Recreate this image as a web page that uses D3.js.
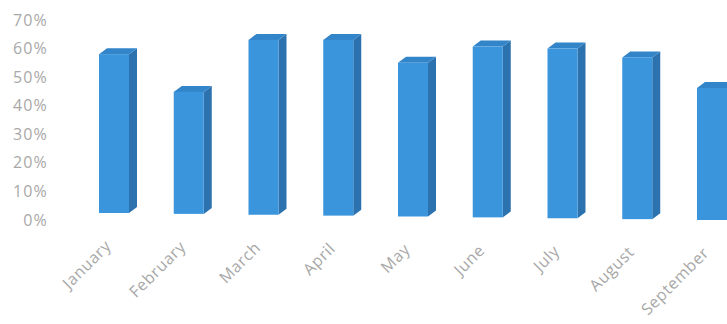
<!DOCTYPE html>
<html><head><meta charset="utf-8">
<script src="https://cdn.jsdelivr.net/npm/d3@7"></script>
<style>html,body{margin:0;padding:0;background:#fff;}svg{display:block;}</style>
</head><body>
<svg id="chart" width="727" height="324"></svg>
<script>
const months = ["January","February","March","April","May","June","July","August","September"];
const values = [0.556, 0.427, 0.612, 0.615, 0.538, 0.598, 0.594, 0.566, 0.462];
const yTicks = [0, 0.1, 0.2, 0.3, 0.4, 0.5, 0.6, 0.7];

const svg = d3.select("#chart");
const y = d3.scaleLinear().domain([0, 0.7]).range([220, 20]);
const x = d3.scaleBand().domain(months).range([99, 99 + 8*74.75 + 30]).paddingInner(0.5987).paddingOuter(0);
const bw = x.bandwidth();
const depthX = 8, depthY = 6;
// perspective: floor slopes down slightly to the right
const base = d3.scaleLinear().domain([0, months.length - 1]).range([213, 220]);

const yAxis = d3.axisLeft(y).tickValues(yTicks).tickFormat(d3.format(".0%")).tickSize(0).tickPadding(0);
const ga = svg.append("g").attr("transform", "translate(48,0)").call(yAxis);
ga.select(".domain").remove();
ga.selectAll("text").attr("fill", "#a8a8a8").style("font-family", "Open Sans, sans-serif").style("font-size", "16px").attr("letter-spacing", "1.2");

const bars = svg.append("g").selectAll("g").data(months).join("g");
bars.each(function(m, i) {
  const g = d3.select(this);
  const x0 = x(m), b = base(i), t = b - (y(0) - y(values[i]));
  // side face
  g.append("path").attr("d", `M${x0+bw},${t}L${x0+bw+depthX},${t-depthY}L${x0+bw+depthX},${b-depthY}L${x0+bw},${b}Z`).attr("fill", "#2b72ae");
  // top face
  g.append("path").attr("d", `M${x0},${t}L${x0+depthX},${t-depthY}L${x0+bw+depthX},${t-depthY}L${x0+bw},${t}Z`).attr("fill", "#3385ca");
  // front face
  g.append("rect").attr("x", x0).attr("y", t).attr("width", bw).attr("height", b - t).attr("fill", "#3b95dc");
});

const labels = svg.append("g").selectAll("text").data(months).join("text")
  .attr("transform", (m, i) => `translate(${x(m) + bw/2 - 2},${base(i) + 34}) rotate(-45)`)
  .attr("text-anchor", "end")
  .attr("fill", "#a8a8a8")
  .style("font-family", "Open Sans, sans-serif")
  .style("font-size", "16px")
  .attr("letter-spacing", "0.6")
  .text(d => d);
</script>
</body></html>
